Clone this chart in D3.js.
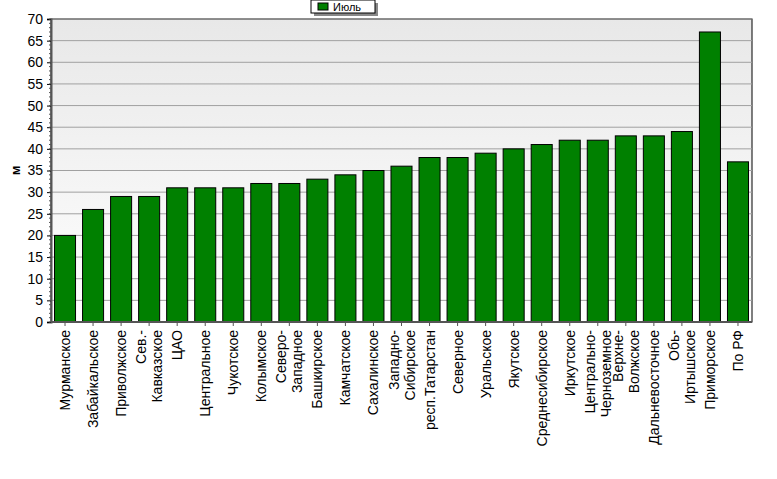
<!DOCTYPE html>
<html>
<head>
<meta charset="utf-8">
<script src="https://cdnjs.cloudflare.com/ajax/libs/d3/7.8.5/d3.min.js"></script>
<style>
	body { margin: 0; background: #fff; }
	text { font-family: 'Liberation Sans', Arial, sans-serif; }
</style>
</head>
<body>
<div id="chart"></div>
<script>
	// Data
	var categories = ["Мурманское", "Забайкальское", "Приволжское", "Сев.-|Кавказское", "ЦАО",
		"Центральное", "Чукотское", "Колымское", "Северо-|Западное", "Башкирское", "Камчатское",
		"Сахалинское", "Западно-|Сибирское", "респ.Татарстан", "Северное", "Уральское", "Якутское",
		"Среднесибирское", "Иркутское", "Центрально-|Черноземное", "Верхне-|Волжское",
		"Дальневосточное", "Обь-|Иртышское", "Приморское", "По РФ"];
	var values = [20, 26, 29, 29, 31, 31, 31, 32, 32, 33, 34, 35, 36, 38, 38, 39, 40, 41, 42, 42, 43, 43, 44, 67, 37];
	var yTicks = d3.range(0, 71, 5);

	var W = 777, H = 479;
	var m = { left: 51, right: 25, top: 19, bottom: 157 };
	var svg = d3.select("#chart").append("svg").attr("width", W).attr("height", H);

	var defs = svg.append("defs");
	var grad = defs.append("linearGradient").attr("id", "bg").attr("x1", 0).attr("x2", 0).attr("y1", 0).attr("y2", 1);
	grad.append("stop").attr("offset", "0%").attr("stop-color", "#e8e8e8");
	grad.append("stop").attr("offset", "100%").attr("stop-color", "#ffffff");

	var x = d3.scaleBand().domain(categories).range([m.left, W - m.right]).paddingInner(0.25).paddingOuter(0.125);
	var y = d3.scaleLinear().domain([0, 70]).range([H - m.bottom, m.top]);

	svg.append("rect").attr("x", m.left).attr("y", m.top)
		.attr("width", W - m.right - m.left).attr("height", H - m.bottom - m.top)
		.attr("fill", "url(#bg)").attr("stroke", "#000");

	// Grid
	svg.append("g").selectAll("line").data(yTicks.slice(1)).enter().append("line")
		.attr("x1", m.left).attr("x2", W - m.right)
		.attr("y1", function(d) { return y(d); }).attr("y2", function(d) { return y(d); })
		.attr("stroke", "#a0a0a0");

	// Bars
	svg.append("g").selectAll("rect").data(values).enter().append("rect")
		.attr("x", function(d, i) { return x(categories[i]); })
		.attr("y", function(d) { return y(d); })
		.attr("width", x.bandwidth())
		.attr("height", function(d) { return y(0) - y(d); })
		.attr("fill", "#008000").attr("stroke", "#000");

	// Y axis
	var yAxis = svg.append("g").attr("transform", "translate(" + m.left + ",0)")
		.call(d3.axisLeft(y).tickValues(yTicks).tickSize(4).tickPadding(4));
	yAxis.select(".domain").attr("stroke", "#555").attr("stroke-width", 2);
	yAxis.selectAll("text").attr("font-size", 14).attr("fill", "#000").style("font-family", "'Liberation Sans', Arial, sans-serif");
	// minor ticks
	yAxis.append("g").selectAll("line").data(d3.range(0, 71, 1)).enter().append("line")
		.attr("x1", -2).attr("x2", 0).attr("y1", function(d) { return y(d); }).attr("y2", function(d) { return y(d); })
		.attr("stroke", "#555");

	svg.append("text").attr("transform", "translate(20," + ((m.top + H - m.bottom) / 2) + ") rotate(-90)")
		.attr("text-anchor", "middle").attr("font-size", 13).attr("font-weight", "bold").text("м");

	// X axis
	var xAxis = svg.append("g").attr("transform", "translate(0," + y(0) + ")");
	xAxis.append("line").attr("x1", m.left).attr("x2", W - m.right).attr("stroke", "#555").attr("stroke-width", 2);
	xAxis.selectAll(".tick").data(categories).enter().append("line")
		.attr("x1", function(d) { return x(d) + x.bandwidth() / 2; })
		.attr("x2", function(d) { return x(d) + x.bandwidth() / 2; })
		.attr("y1", 0).attr("y2", 4).attr("stroke", "#555");
	var lbl = xAxis.selectAll("g.lbl").data(categories).enter().append("g")
		.attr("transform", function(d) { return "translate(" + (x(d) + x.bandwidth() / 2) + ",8) rotate(-90)"; });
	lbl.each(function(d) {
		var lines = d.split("|");
		var g = d3.select(this);
		lines.forEach(function(t, k) {
			var off = (k - (lines.length - 1) / 2) * 16 + 5;
			g.append("text").attr("text-anchor", "end").attr("y", off)
				.attr("font-size", 14).text(t);
		});
	});

	// Legend
	var lg = svg.append("g").attr("transform", "translate(311,0)");
	lg.append("rect").attr("x", 3).attr("y", 3).attr("width", 64).attr("height", 13).attr("fill", "#888");
	lg.append("rect").attr("x", 0).attr("y", 0).attr("width", 64).attr("height", 13).attr("fill", "#fff").attr("stroke", "#000");
	lg.append("rect").attr("x", 7).attr("y", 3).attr("width", 10).attr("height", 7).attr("fill", "#008000").attr("stroke", "#000");
	lg.append("text").attr("x", 22).attr("y", 11).attr("font-size", 11).text("Июль");
</script>
</body>
</html>
